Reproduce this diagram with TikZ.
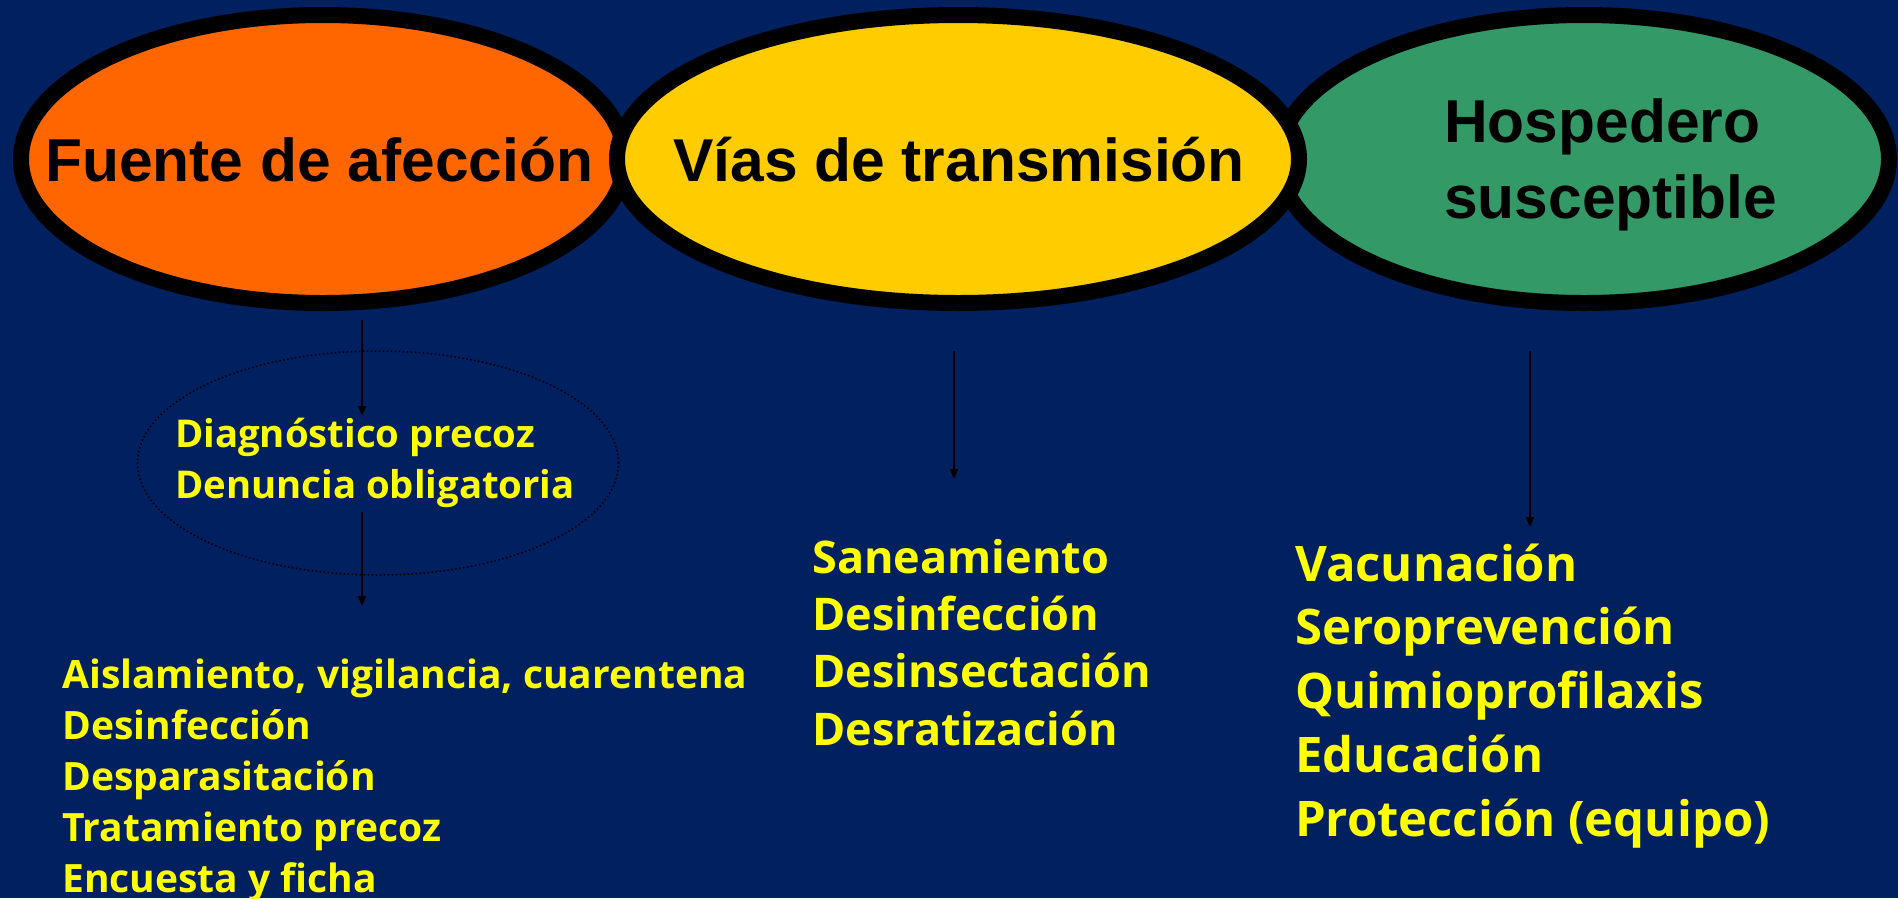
\documentclass[tikz,border=0pt]{standalone}
\usepackage{fontspec}
\setmainfont{Liberation Sans}
\newfontfamily\listfont{Open Sans}
\usetikzlibrary{shapes.geometric,arrows.meta}
\definecolor{bgnavy}{RGB}{0,32,96}
\definecolor{eorange}{RGB}{255,102,0}
\definecolor{eyellow}{RGB}{255,204,0}
\definecolor{egreen}{RGB}{51,153,102}
\definecolor{ltext}{RGB}{255,255,0}
\begin{document}
\begin{tikzpicture}[x=1pt,y=-1pt,
  bigell/.style={ellipse,draw=black,line width=16pt,inner sep=0pt},
  title/.style={anchor=base west,inner sep=0pt,text=black,font=\bfseries\fontsize{60.5}{76}\selectfont},
  item/.style={anchor=base west,inner sep=0pt,text=ltext,align=left},
  arr/.style={line width=2pt,draw=black,-{Triangle[length=10pt,width=8pt]}}]
\fill[bgnavy] (0,0) rectangle (1898,898);
\useasboundingbox (0,0) rectangle (1898,898);
% ellipses
\node[bigell,fill=eorange,minimum width=604pt,minimum height=288pt] (src) at (323,159) {};
\node[bigell,fill=egreen,minimum width=610pt,minimum height=288pt] (host) at (1584,159) {};
\node[bigell,fill=eyellow,minimum width=682pt,minimum height=288pt] (via) at (958,159) {};
% titles
\node[title] (srct) at (45,181) {Fuente de afección};
\node[title] (viat) at (673,181) {Vías de transmisión};
\node[title,align=left] (hostt) at (1444,218) {Hospedero\\susceptible};
% dotted ellipse
\node[ellipse,draw=black,line width=1.5pt,dash pattern=on 1.5pt off 2.5pt,minimum width=481pt,minimum height=224pt,inner sep=0pt] (prevbox) at (378,463) {};
% texts (anchored at the baseline of the last line)
\node[item,font=\listfont\bfseries\fontsize{38.3}{51}\selectfont] (diag) at (175,498) {Diagnóstico precoz\\Denuncia obligatoria};
\node[item,font=\listfont\bfseries\fontsize{39}{51}\selectfont] (srcl) at (62,892) {Aislamiento, vigilancia, cuarentena\\Desinfección\\Desparasitación\\Tratamiento precoz\\Encuesta y ficha};
\node[item,font=\listfont\bfseries\fontsize{45}{57.3}\selectfont] (vial) at (812,745) {Saneamiento\\Desinfección\\Desinsectación\\Desratización};
\node[item,font=\listfont\bfseries\fontsize{49}{63.7}\selectfont] (hostl) at (1295,836) {Vacunación\\Seroprevención\\Quimioprofilaxis\\Educación\\Protección (equipo)};
% arrows
\coordinate (a1s) at (362,320); \coordinate (a1e) at (362,416);
\coordinate (a2s) at (362,512); \coordinate (a2e) at (362,606);
\coordinate (a3s) at (954,351); \coordinate (a3e) at (954,479);
\coordinate (a4s) at (1530,351); \coordinate (a4e) at (1530,527);
\draw[arr] (a1s) -- (a1e);
\draw[arr] (a2s) -- (a2e);
\draw[arr] (a3s) -- (a3e);
\draw[arr] (a4s) -- (a4e);
\end{tikzpicture}
\end{document}
